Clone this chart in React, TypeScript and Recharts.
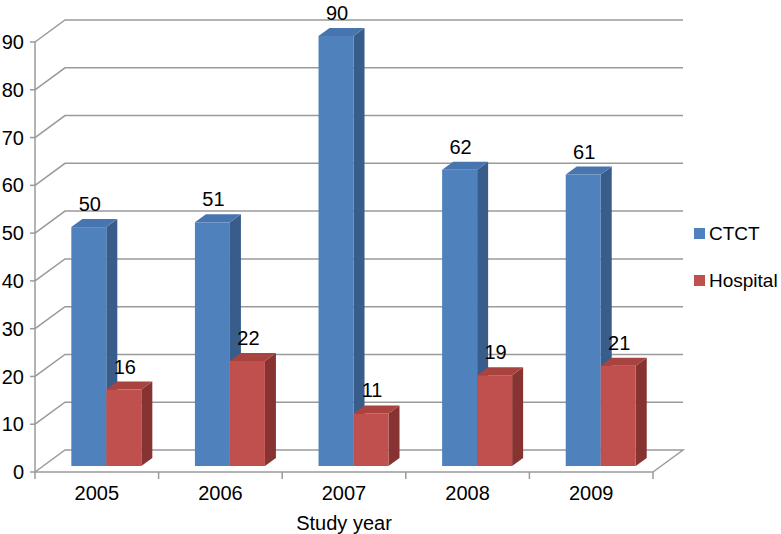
import React from 'react'
import {
  BarChart,
  Bar,
  XAxis,
  YAxis,
  CartesianGrid,
  LabelList,
} from 'recharts'

const years = ['2005', '2006', '2007', '2008', '2009']
const ctct = [50, 51, 90, 62, 61]
const hospital = [16, 22, 11, 19, 21]
const yTicks = [0, 10, 20, 30, 40, 50, 60, 70, 80, 90]

const data = years.map((year, i) => ({ year, ctct: ctct[i], hospital: hospital[i] }))

const W = 781
const H = 534
const M = { top: 42, right: 128, left: 0, bottom: 0 }
const Y_W = 35
const X_H = 62
const PLOT_W = W - M.right - Y_W
const PLOT_BOTTOM = H - X_H

// 3d look: depth of the walls and of the bars
const WALL_DX = 30
const WALL_DY = -22
const BAR_DX = 11
const BAR_DY = -8
const SHIFT_X = 10
const SHIFT_Y = -6

const FONT = '"Liberation Sans", Arial, sans-serif'
const GRID = '#9a9a9a'

const SERIES = [
  { key: 'ctct', name: 'CTCT', front: '#4F81BD', top: '#4775AF', side: '#385D8A' },
  { key: 'hospital', name: 'Hospital', front: '#C0504D', top: '#A9433F', side: '#873331' },
]

function makeShape(s: typeof SERIES[number]) {
  return (props: any) => {
    const { x, y, width, height } = props
    if (width == null || height == null) return <g />
    const fx = x + SHIFT_X
    const fy = y + SHIFT_Y
    const w = width
    const h = height
    const side = `${fx + w},${fy} ${fx + w + BAR_DX},${fy + BAR_DY} ${fx + w + BAR_DX},${fy + h + BAR_DY} ${fx + w},${fy + h}`
    const top = `${fx},${fy} ${fx + BAR_DX},${fy + BAR_DY} ${fx + w + BAR_DX},${fy + BAR_DY} ${fx + w},${fy}`
    return (
      <g>
        <polygon points={side} fill={s.side} />
        <rect x={fx} y={fy} width={w} height={h} fill={s.front} />
        <polygon points={top} fill={s.top} />
      </g>
    )
  }
}

function barLabel(props: any) {
  const { x, y, width, value } = props
  return (
    <text
      x={x + width / 2 + SHIFT_X + 1}
      y={y + SHIFT_Y - 16}
      textAnchor="middle"
      fontSize={20}
      fontFamily={FONT}
      fill="#000"
    >
      {value}
    </text>
  )
}

function gridLine(props: any) {
  const { x1, x2, y1, index } = props
  const floor = Math.abs(y1 - PLOT_BOTTOM) < 1
  let pts = `${x1},${y1} ${x1 + WALL_DX},${y1 + WALL_DY} ${x2 + WALL_DX},${y1 + WALL_DY}`
  if (floor) pts += ` ${x2},${y1}`
  return <polyline key={`g-${index}`} points={pts} fill="none" stroke={GRID} strokeWidth={1.5} />
}

function YearTick(props: any) {
  const { x, payload, index } = props
  const bw = PLOT_W / years.length
  return (
    <g>
      <line x1={x - bw / 2} y1={PLOT_BOTTOM} x2={x - bw / 2} y2={PLOT_BOTTOM + 7} stroke={GRID} strokeWidth={1.5} />
      {index === years.length - 1 && (
        <line x1={x + bw / 2} y1={PLOT_BOTTOM} x2={x + bw / 2} y2={PLOT_BOTTOM + 7} stroke={GRID} strokeWidth={1.5} />
      )}
      <text x={x} y={PLOT_BOTTOM + 28} textAnchor="middle" fontSize={20} fontFamily={FONT} fill="#000">
        {payload.value}
      </text>
    </g>
  )
}

function LegendBox() {
  return (
    <div style={{ position: 'absolute', left: 694, top: 210, fontFamily: FONT, fontSize: 19, color: '#000' }}>
      {SERIES.map((s) => (
        <div key={s.key} style={{ display: 'flex', alignItems: 'center', height: 47 }}>
          <span style={{ width: 11, height: 11, background: s.front, display: 'inline-block', marginRight: 4 }} />
          <span>{s.name}</span>
        </div>
      ))}
    </div>
  )
}

export default function App() {
  return (
    <div style={{ position: 'absolute', left: 0, top: 0, width: W, height: H, background: '#fff' }}>
      <BarChart width={W} height={H} data={data} margin={M} barCategoryGap="21.3%" barGap={0}>
        <CartesianGrid vertical={false} horizontal={gridLine} />
        <XAxis
          dataKey="year"
          height={X_H}
          axisLine={{ stroke: GRID, strokeWidth: 1.5 }}
          tickLine={false}
          tick={<YearTick />}
          interval={0}
          label={{
            value: 'Study year',
            position: 'insideBottom',
            offset: 4,
            fontSize: 20,
            fontFamily: FONT,
            fill: '#000',
          }}
        />
        <YAxis
          width={Y_W}
          domain={[0, 90]}
          ticks={yTicks}
          interval={0}
          axisLine={{ stroke: GRID, strokeWidth: 1.5 }}
          tickLine={{ stroke: GRID, strokeWidth: 1.5 }}
          tickSize={5}
          tickMargin={6}
          tick={{ fontSize: 20, fontFamily: FONT, fill: '#000' }}
        />
        {SERIES.map((s) => (
          <Bar key={s.key} dataKey={s.key} name={s.name} shape={makeShape(s)} isAnimationActive={false}>
            <LabelList dataKey={s.key} content={barLabel} />
          </Bar>
        ))}
      </BarChart>
      <LegendBox />
    </div>
  )
}
